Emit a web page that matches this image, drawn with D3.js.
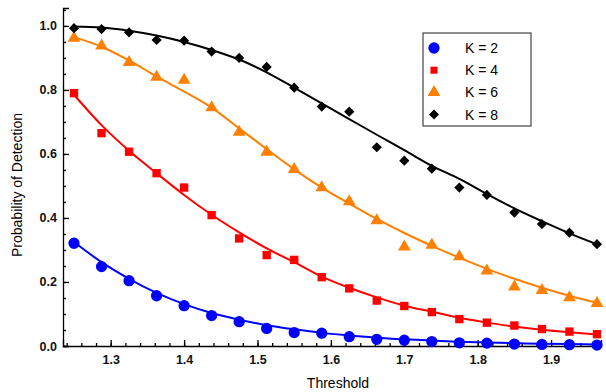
<!DOCTYPE html>
<html>
<head>
<meta charset="utf-8">
<script src="https://cdn.jsdelivr.net/npm/d3@7"></script>
<style>
  body { margin: 0; background: #fff; }
  text { font-family: "Liberation Sans", Arial, sans-serif; }
</style>
</head>
<body>
<div id="chart"></div>
<script>
// thresholds (x values)
const thresholds = [1.25, 1.2875, 1.325, 1.3625, 1.4, 1.4375, 1.475, 1.5125, 1.55, 1.5875,
  1.625, 1.6625, 1.7, 1.7375, 1.775, 1.8125, 1.85, 1.8875, 1.925, 1.9625];

// measured points
const k2Points = [0.321, 0.248, 0.204, 0.157, 0.126, 0.095, 0.076, 0.055, 0.042, 0.040,
  0.029, 0.021, 0.018, 0.014, 0.010, 0.009, 0.006, 0.005, 0.004, 0.003];
const k4Points = [0.790, 0.665, 0.607, 0.540, 0.495, 0.409, 0.336, 0.284, 0.269, 0.215,
  0.180, 0.142, 0.125, 0.106, 0.084, 0.073, 0.064, 0.053, 0.045, 0.037];
const k6Points = [0.962, 0.938, 0.886, 0.840, 0.831, 0.745, 0.668, 0.606, 0.552, 0.495,
  0.451, 0.392, 0.310, 0.315, 0.279, 0.235, 0.185, 0.174, 0.151, 0.133];
const k8Points = [0.993, 0.990, 0.980, 0.956, 0.954, 0.920, 0.900, 0.872, 0.807, 0.748,
  0.732, 0.621, 0.579, 0.554, 0.495, 0.472, 0.417, 0.381, 0.354, 0.318];

// fitted curves
const k2Fit = [0.325, 0.262, 0.210, 0.166, 0.131, 0.103, 0.082, 0.065, 0.052, 0.041,
  0.033, 0.026, 0.021, 0.017, 0.013, 0.011, 0.009, 0.007, 0.006, 0.005];
const k4Fit = [0.785, 0.690, 0.610, 0.540, 0.472, 0.410, 0.355, 0.305, 0.262, 0.217,
  0.182, 0.152, 0.126, 0.107, 0.088, 0.073, 0.061, 0.051, 0.043, 0.036];
const k6Fit = [0.965, 0.935, 0.892, 0.842, 0.795, 0.745, 0.680, 0.615, 0.552, 0.495,
  0.445, 0.397, 0.353, 0.313, 0.276, 0.241, 0.210, 0.182, 0.157, 0.135];
const k8Fit = [0.998, 0.995, 0.985, 0.970, 0.950, 0.925, 0.895, 0.855, 0.807, 0.758,
  0.709, 0.660, 0.612, 0.563, 0.522, 0.475, 0.430, 0.390, 0.352, 0.318];

const seriesNames = ['K = 2', 'K = 4', 'K = 6', 'K = 8'];
const seriesColors = ['#0000ff', '#ff0000', '#ff8000', '#000000'];
const seriesSymbols = [d3.symbolCircle, d3.symbolSquare, d3.symbolTriangle, d3.symbolSquare];
const seriesRotate = [0, 0, 0, 45];

const xTicks = [1.3, 1.4, 1.5, 1.6, 1.7, 1.8, 1.9];
const yTicks = [0.0, 0.2, 0.4, 0.6, 0.8, 1.0];

const width = 606;
const height = 392;
const margin = { top: 8, right: 5, bottom: 46, left: 63 };

const series = [
  { pts: k2Points, fit: k2Fit, size: 100 },
  { pts: k4Points, fit: k4Fit, size: 70 },
  { pts: k6Points, fit: k6Fit, size: 70 },
  { pts: k8Points, fit: k8Fit, size: 52 }
].map((s, i) => Object.assign(s, {
  name: seriesNames[i], color: seriesColors[i], symbol: seriesSymbols[i], rot: seriesRotate[i]
}));

const svg = d3.select('#chart')
  .append('svg')
  .attr('width', width)
  .attr('height', height);

const x = d3.scaleLinear()
  .domain([1.235, 1.968])
  .range([margin.left, width - margin.right]);

const y = d3.scaleLinear()
  .domain([0, 1.056])
  .range([height - margin.bottom, margin.top]);

// x axis with inward ticks
const xAxis = svg.append('g')
  .attr('transform', `translate(0,${height - margin.bottom})`);
xAxis.append('g')
  .call(d3.axisBottom(x).tickValues(d3.range(1.24, 1.97, 0.02)).tickSize(-3).tickFormat(''))
  .call(g => g.select('.domain').remove());
xAxis.append('g')
  .call(d3.axisBottom(x).tickValues(xTicks).tickSize(-6).tickPadding(9).tickFormat(d3.format('.1f')))
  .call(g => g.selectAll('text').attr('font-size', 12.5).attr('font-weight', 'bold').attr('fill', '#111'));
xAxis.selectAll('line, path').attr('stroke', '#000').attr('stroke-width', 1.3);

// y axis with inward ticks
const yAxis = svg.append('g')
  .attr('transform', `translate(${margin.left},0)`);
yAxis.append('g')
  .call(d3.axisLeft(y).tickValues(d3.range(0, 1.051, 0.05)).tickSize(-3).tickFormat(''))
  .call(g => g.select('.domain').remove());
yAxis.append('g')
  .call(d3.axisLeft(y).tickValues(yTicks).tickSize(-6).tickPadding(6).tickFormat(d3.format('.1f')))
  .call(g => g.selectAll('text').attr('font-size', 12.5).attr('font-weight', 'bold').attr('fill', '#111'));
yAxis.selectAll('line, path').attr('stroke', '#000').attr('stroke-width', 1.3);

// axis titles
svg.append('text')
  .attr('x', (margin.left + width - margin.right) / 2 + 6)
  .attr('y', 388)
  .attr('text-anchor', 'middle')
  .attr('font-size', 14)
  .text('Threshold');

svg.append('text')
  .attr('transform', `translate(22,${(margin.top + height - margin.bottom) / 2 + 8}) rotate(-90)`)
  .attr('text-anchor', 'middle')
  .attr('font-size', 14)
  .text('Probability of Detection');

// fit curves
const line = d3.line()
  .x((d, i) => x(thresholds[i]))
  .y(d => y(d))
  .curve(d3.curveMonotoneX);

svg.append('g')
  .selectAll('path')
  .data(series)
  .enter().append('path')
  .attr('d', d => line(d.fit))
  .attr('fill', 'none')
  .attr('stroke', d => d.color)
  .attr('stroke-width', 2);

// points
series.forEach(s => {
  svg.append('g')
    .selectAll('path')
    .data(s.pts)
    .enter().append('path')
    .attr('transform', (d, i) => `translate(${x(thresholds[i])},${y(d)}) rotate(${s.rot})`)
    .attr('d', d3.symbol().type(s.symbol).size(s.size))
    .attr('fill', s.color);
});

// legend
const legend = svg.append('g')
  .attr('transform', 'translate(423,33)');
legend.append('rect')
  .attr('width', 108)
  .attr('height', 93)
  .attr('fill', '#fff')
  .attr('stroke', '#444')
  .attr('stroke-width', 1.2);

const legendSizes = [100, 50, 70, 50];
const item = legend.selectAll('g.item')
  .data(series)
  .enter().append('g')
  .attr('class', 'item')
  .attr('transform', (d, i) => `translate(0,${15 + i * 22.2})`);
item.append('path')
  .attr('transform', d => `translate(11,0) rotate(${d.rot})`)
  .attr('d', (d, i) => d3.symbol().type(d.symbol).size(legendSizes[i])())
  .attr('fill', d => d.color);
item.append('text')
  .attr('x', 42)
  .attr('y', 5)
  .attr('font-size', 14)
  .text(d => d.name);
</script>
</body>
</html>
